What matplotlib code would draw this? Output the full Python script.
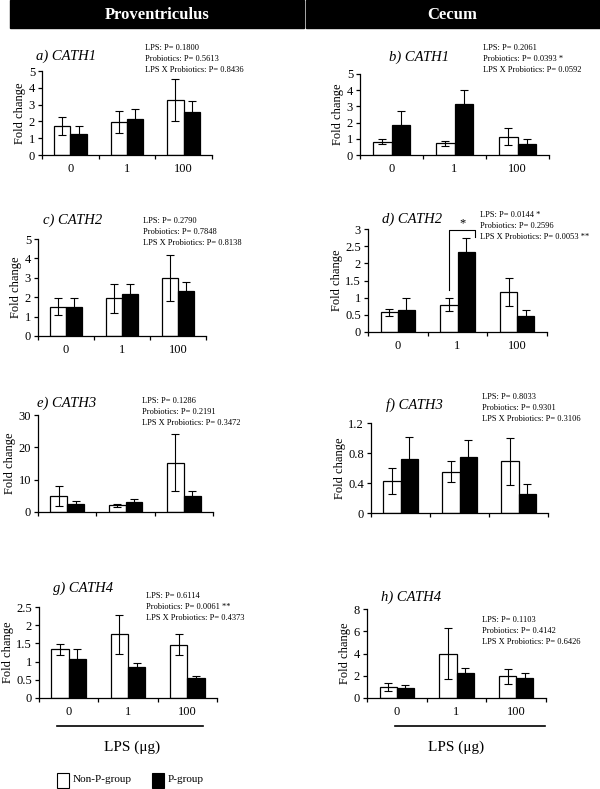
import numpy as np
import matplotlib
matplotlib.use('Agg')
import matplotlib.pyplot as plt
from matplotlib.patches import Rectangle
from matplotlib.ticker import FuncFormatter, FixedLocator

plt.rcParams['font.family'] = ['Liberation Serif', 'DejaVu Serif']

# ---- data ----
doses = ['0', '1', '100']
groups = ['Non-P-group', 'P-group']

# Proventriculus
cath1_prov_nonp = [1.73, 1.98, 3.27]
cath1_prov_nonp_err = [0.51, 0.66, 1.23]
cath1_prov_p = [1.25, 2.12, 2.58]
cath1_prov_p_err = [0.48, 0.62, 0.63]

cath2_prov_nonp = [1.51, 1.94, 2.98]
cath2_prov_nonp_err = [0.43, 0.76, 1.20]
cath2_prov_p = [1.50, 2.16, 2.34]
cath2_prov_p_err = [0.47, 0.54, 0.46]

cath3_prov_nonp = [4.96, 2.07, 15.3]
cath3_prov_nonp_err = [3.0, 0.5, 8.7]
cath3_prov_p = [2.38, 3.10, 4.96]
cath3_prov_p_err = [1.0, 1.0, 1.45]

cath4_prov_nonp = [1.34, 1.75, 1.46]
cath4_prov_nonp_err = [0.15, 0.54, 0.29]
cath4_prov_p = [1.06, 0.84, 0.55]
cath4_prov_p_err = [0.29, 0.11, 0.05]

# Cecum
cath1_cec_nonp = [0.83, 0.72, 1.14]
cath1_cec_nonp_err = [0.17, 0.15, 0.52]
cath1_cec_p = [1.86, 3.16, 0.68]
cath1_cec_p_err = [0.83, 0.83, 0.33]

cath2_cec_nonp = [0.57, 0.79, 1.17]
cath2_cec_nonp_err = [0.11, 0.19, 0.41]
cath2_cec_p = [0.64, 2.32, 0.47]
cath2_cec_p_err = [0.36, 0.43, 0.17]

cath3_cec_nonp = [0.43, 0.55, 0.69]
cath3_cec_nonp_err = [0.17, 0.14, 0.31]
cath3_cec_p = [0.72, 0.75, 0.26]
cath3_cec_p_err = [0.30, 0.23, 0.125]

cath4_cec_nonp = [0.99, 3.97, 1.94]
cath4_cec_nonp_err = [0.36, 2.30, 0.66]
cath4_cec_p = [0.87, 2.21, 1.79]
cath4_cec_p_err = [0.27, 0.45, 0.42]

pvals_a = ['LPS: P= 0.1800', 'Probiotics: P= 0.5613', 'LPS X Probiotics: P= 0.8436']
pvals_b = ['LPS: P= 0.2061', 'Probiotics: P= 0.0393 *', 'LPS X Probiotics: P= 0.0592']
pvals_c = ['LPS: P= 0.2790', 'Probiotics: P= 0.7848', 'LPS X Probiotics: P= 0.8138']
pvals_d = ['LPS: P= 0.0144 *', 'Probiotics: P= 0.2596', 'LPS X Probiotics: P= 0.0053 **']
pvals_e = ['LPS: P= 0.1286', 'Probiotics: P= 0.2191', 'LPS X Probiotics: P= 0.3472']
pvals_f = ['LPS: P= 0.8033', 'Probiotics: P= 0.9301', 'LPS X Probiotics: P= 0.3106']
pvals_g = ['LPS: P= 0.6114', 'Probiotics: P= 0.0061 **', 'LPS X Probiotics: P= 0.4373']
pvals_h = ['LPS: P= 0.1103', 'Probiotics: P= 0.4142', 'LPS X Probiotics: P= 0.6426']

W, H = 600, 789
fig = plt.figure(figsize=(W / 100, H / 100), dpi=100)


def fx(x):
    return x / W


def fy(y):
    return 1 - y / H


def add_ax(x0, x1, y0, y1):
    return fig.add_axes([fx(x0), fy(y1), (x1 - x0) / W, (y1 - y0) / H])


def panel(ax, nonp, nonp_err, pgrp, pgrp_err, ymax, ystep, show_x=True):
    x = np.arange(len(doses))
    bw = 0.29
    ax.bar(x - bw / 2, nonp, bw, color='white', edgecolor='black', linewidth=0.9, zorder=2)
    ax.bar(x + bw / 2, pgrp, bw, color='black', edgecolor='black', linewidth=0.9, zorder=2)
    ax.errorbar(x - bw / 2, nonp, yerr=nonp_err, fmt='none', ecolor='black',
                elinewidth=0.8, capsize=3, capthick=0.8, zorder=3)
    ax.errorbar(x + bw / 2, pgrp, yerr=pgrp_err, fmt='none', ecolor='black',
                elinewidth=0.8, capsize=3, capthick=0.8, zorder=3)
    ax.set_xlim(-0.5, len(doses) - 0.5)
    ax.set_ylim(0, ymax)
    ax.set_yticks(np.arange(0, ymax + ystep / 2, ystep))
    ax.yaxis.set_major_formatter(FuncFormatter(lambda v, p: '%g' % round(v, 3)))
    ax.xaxis.set_major_locator(FixedLocator(np.arange(-0.5, len(doses), 1.0)))
    ax.xaxis.set_minor_locator(FixedLocator(x))
    ax.set_xticklabels([])
    if show_x:
        ax.set_xticklabels(doses, minor=True)
    ax.tick_params(axis='x', which='minor', length=0, pad=6, labelsize=9)
    ax.tick_params(axis='x', which='major', length=3, width=0.9, direction='out')
    ax.tick_params(axis='y', length=3, width=0.9, direction='out', labelsize=9, pad=2)
    for s in ['top', 'right']:
        ax.spines[s].set_visible(False)
    for s in ['left', 'bottom']:
        ax.spines[s].set_linewidth(0.9)
    ax.set_ylabel('Fold change', fontsize=9, labelpad=2)


def ptext(x, y, lines):
    fig.text(fx(x), fy(y), '\n'.join(lines), fontsize=6, va='center', ha='left',
             linespacing=1.45)


def title(x, y, s):
    fig.text(fx(x), fy(y), s, fontsize=10.5, style='italic', va='center', ha='left')


# header bars
fig.patches.append(Rectangle((fx(10), fy(28)), (304 - 10) / W, 28 / H,
                             transform=fig.transFigure, color='black'))
fig.patches.append(Rectangle((fx(306), fy(28)), (600 - 306) / W, 28 / H,
                             transform=fig.transFigure, color='black'))
fig.text(fx(157), fy(15), 'Proventriculus', color='white', fontsize=12,
         fontweight='bold', ha='center', va='center')
fig.text(fx(452), fy(15), 'Cecum', color='white', fontsize=12,
         fontweight='bold', ha='center', va='center')

# a
ax = add_ax(42, 212, 71, 155)
panel(ax, cath1_prov_nonp, cath1_prov_nonp_err, cath1_prov_p, cath1_prov_p_err, 5, 1)
title(36, 56, 'a) CATH1')
ptext(145, 59, pvals_a)

# b
ax = add_ax(360, 549, 74, 155)
panel(ax, cath1_cec_nonp, cath1_cec_nonp_err, cath1_cec_p, cath1_cec_p_err, 5, 1)
title(389, 57, 'b) CATH1')
ptext(483, 59, pvals_b)

# c
ax = add_ax(38, 206, 239, 336)
panel(ax, cath2_prov_nonp, cath2_prov_nonp_err, cath2_prov_p, cath2_prov_p_err, 5, 1)
title(43, 220, 'c) CATH2')
ptext(143, 232, pvals_c)

# d
ax = add_ax(368, 547, 229, 332)
panel(ax, cath2_cec_nonp, cath2_cec_nonp_err, cath2_cec_p, cath2_cec_p_err, 3, 0.5)
title(382, 219, 'd) CATH2')
ptext(480, 226, pvals_d)
ax.plot([0.86, 0.86, 1.295, 1.295], [1.22, 2.96, 2.96, 2.76], color='black',
        linewidth=0.8, clip_on=False)
ax.text(1.08, 3.0, '*', ha='center', va='bottom', fontsize=9, clip_on=False)

# e
ax = add_ax(38, 213, 415, 512)
panel(ax, cath3_prov_nonp, cath3_prov_nonp_err, cath3_prov_p, cath3_prov_p_err, 30, 10,
      show_x=False)
title(37, 403, 'e) CATH3')
ptext(142, 412, pvals_e)

# f
ax = add_ax(371, 548, 423, 513)
panel(ax, cath3_cec_nonp, cath3_cec_nonp_err, cath3_cec_p, cath3_cec_p_err, 1.2, 0.4,
      show_x=False)
title(386, 405, 'f) CATH3')
ptext(482, 408, pvals_f)

# g
ax = add_ax(39, 217, 607, 698)
panel(ax, cath4_prov_nonp, cath4_prov_nonp_err, cath4_prov_p, cath4_prov_p_err, 2.5, 0.5)
title(53, 588, 'g) CATH4')
ptext(146, 607, pvals_g)

# h
ax = add_ax(367, 546, 609, 698)
panel(ax, cath4_cec_nonp, cath4_cec_nonp_err, cath4_cec_p, cath4_cec_p_err, 8, 2)
title(381, 597, 'h) CATH4')
ptext(482, 631, pvals_h)

# LPS axis captions
for x0, x1, xc in [(57, 203, 132), (395, 545, 456)]:
    fig.add_artist(plt.Line2D([fx(x0), fx(x1)], [fy(726), fy(726)], color='black',
                              linewidth=1.2, transform=fig.transFigure))
    fig.text(fx(xc), fy(747), 'LPS (μg)', fontsize=11, ha='center', va='center')

# legend
for bx, fc, lab in [(57, 'white', groups[0]), (152, 'black', groups[1])]:
    fig.patches.append(Rectangle((fx(bx), fy(788)), 12 / W, 15 / H,
                                 transform=fig.transFigure, facecolor=fc,
                                 edgecolor='black', linewidth=0.8))
    fig.text(fx(bx + 16), fy(780), lab, fontsize=8, ha='left', va='center')

fig.savefig('out.png', dpi=100)
